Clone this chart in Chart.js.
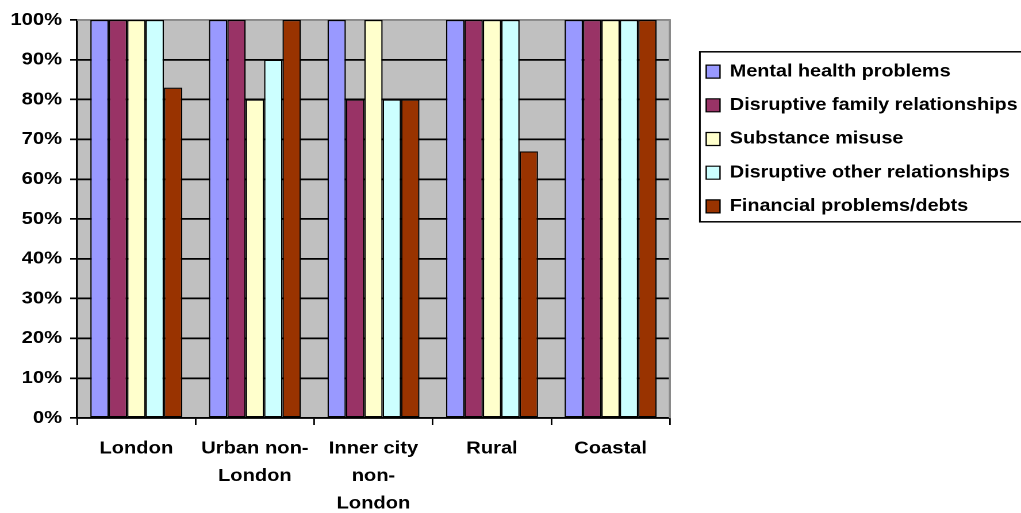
<!DOCTYPE html>
<html>
<head>
<meta charset="utf-8">
<script src="https://cdn.jsdelivr.net/npm/chart.js@4/dist/chart.umd.min.js"></script>
<style>
  html, body { margin: 0; padding: 0; background: #fff; overflow: hidden; }
  /* the chart is laid out on a narrower canvas and widened, giving the broad lettering */
  #wrap { width: 888px; height: 513px; transform: scaleX(1.14977); transform-origin: 0 0; }
  #c { width: 888px; height: 513px; display: block; }
</style>
</head>
<body>
<div id="wrap"><canvas id="c" width="888" height="513"></canvas></div>
<script>
// Area types along the x axis
const areas = ['London', ['Urban non-', 'London'], ['Inner city', 'non-', 'London'], 'Rural', 'Coastal'];

// Series names
const seriesNames = [
  'Mental health problems',
  'Disruptive family relationships',
  'Substance misuse',
  'Disruptive other relationships',
  'Financial problems/debts'
];

// Share of cases (%) per area type
const mentalHealth        = [100, 100, 100, 100, 100];
const familyRelationships = [100, 100,  80, 100, 100];
const substanceMisuse     = [100,  80, 100, 100, 100];
const otherRelationships  = [100,  90,  80, 100, 100];
const financialDebts      = [ 83, 100,  80,  67, 100];

// Y axis ticks
const yMin = 0, yMax = 100, yStep = 10;

const seriesValues = [mentalHealth, familyRelationships, substanceMisuse, otherRelationships, financialDebts];
const seriesColors = ['#9999FF', '#993366', '#FFFFCC', '#CCFFFF', '#993300'];

const FONT = { family: "'Liberation Sans', Arial, sans-serif", size: 17.5, weight: 'bold' };
const LEGEND_FONT = { family: "'Liberation Sans', Arial, sans-serif", size: 17.2, weight: 'bold' };
const LEGEND_SPACE = 305.4;

// Plot background and the grey frame on the top and right edges
const plotFrame = {
  id: 'plotFrame',
  beforeDraw(chart) {
    const a = chart.chartArea, ctx = chart.ctx;
    ctx.save();
    ctx.fillStyle = '#C0C0C0';
    ctx.fillRect(a.left, a.top, a.right - a.left, a.bottom - a.top);
    ctx.restore();
  },
  beforeDatasetsDraw(chart) {
    const a = chart.chartArea, ctx = chart.ctx;
    ctx.save();
    ctx.strokeStyle = '#8a8a8a';
    ctx.lineWidth = 1.8;
    ctx.beginPath();
    ctx.moveTo(a.left, a.top);
    ctx.lineTo(a.right, a.top);
    ctx.lineTo(a.right, a.bottom);
    ctx.stroke();
    ctx.restore();
  }
};

// Legend: fixed width, placed beside the plot, with a frame around its entries
const legendFrame = {
  id: 'legendFrame',
  beforeLayout(chart) {
    const lg = chart.legend;
    if (lg && !lg.__fixedWidth) {
      const fit = lg.fit;
      lg.fit = function () { fit.call(this); this.width = LEGEND_SPACE; };
      lg.__fixedWidth = true;
    }
  },
  afterLayout(chart) {
    const lg = chart.legend;
    if (!lg) return;
    lg.left = chart.chartArea.right + 15.1;
    lg.top = 46.5;
  },
  afterDraw(chart) {
    const lg = chart.legend, ctx = chart.ctx;
    if (!lg) return;
    ctx.save();
    ctx.strokeStyle = '#000';
    ctx.lineWidth = 1.5;
    ctx.strokeRect(lg.left + 11, lg.top + 5.3, chart.width, 170);
    ctx.restore();
  }
};

new Chart(document.getElementById('c'), {
  type: 'bar',
  data: {
    labels: areas,
    datasets: seriesNames.map((name, i) => ({
      label: name,
      data: seriesValues[i],
      backgroundColor: seriesColors[i],
      borderColor: '#000',
      borderWidth: 1.2,
      borderSkipped: false,
      categoryPercentage: 0.776,
      barPercentage: 1
    }))
  },
  options: {
    responsive: false,
    animation: false,
    devicePixelRatio: 2,
    layout: { padding: { top: 20, left: 0, right: 0, bottom: 0 } },
    scales: {
      x: {
        grid: { offset: true, drawOnChartArea: false, drawTicks: true, tickLength: 7, color: '#000', lineWidth: 1.4 },
        border: { color: '#000', width: 1.7 },
        ticks: { color: '#000', font: Object.assign({}, FONT, { lineHeight: 1.57 }), padding: 10, maxRotation: 0, autoSkip: false },
        afterFit(scale) { scale.height = 95; }
      },
      y: {
        min: yMin,
        max: yMax,
        ticks: { stepSize: yStep, color: '#000', font: FONT, padding: 7.1, callback: v => v + '%' },
        grid: {
          color: ctx => (ctx.tick && ctx.tick.value === yMax) ? '#8a8a8a' : '#000',
          tickColor: '#000',
          tickLength: 6,
          lineWidth: 1.7
        },
        border: { color: '#000', width: 1.7 },
        afterFit(scale) { scale.width = 67; }
      }
    },
    plugins: {
      legend: {
        position: 'right',
        align: 'start',
        labels: { boxWidth: 12, boxHeight: 13, padding: 16.5, color: '#000', font: LEGEND_FONT }
      },
      tooltip: { enabled: false }
    }
  },
  plugins: [plotFrame, legendFrame]
});
</script>
</body>
</html>
